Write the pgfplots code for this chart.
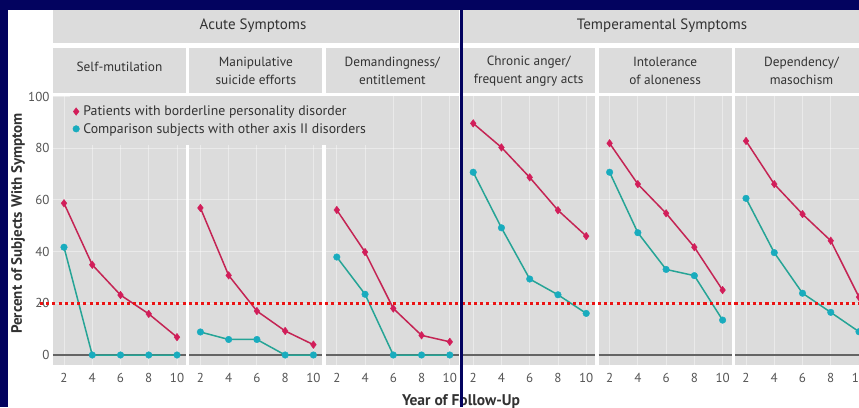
\documentclass[border=0pt]{standalone}
\usepackage{fontspec}
\setmainfont{PT Sans}
\usepackage{pgfplots}
\usepackage{pgfplotstable}
\pgfplotsset{compat=1.18}
\definecolor{navy}{RGB}{3,3,95}
\definecolor{panelgray}{RGB}{220,220,220}
\definecolor{bpd}{RGB}{196,36,84}
\definecolor{bpdm}{RGB}{210,30,90}
\definecolor{cmpl}{RGB}{38,164,150}
\definecolor{cmpm}{RGB}{25,172,190}
\definecolor{tickgray}{RGB}{85,85,85}
\definecolor{textgray}{RGB}{50,50,50}
\definecolor{zerogray}{RGB}{100,100,100}
\definecolor{dotred}{RGB}{235,20,20}

\pgfplotstableread{
year bpd cmp
2 58.7 41.7
4 34.9 0
6 23.2 0
8 15.9 0
10 6.9 0
}\pone
\pgfplotstableread{
year bpd cmp
2 56.9 8.9
4 30.8 6.0
6 17.0 6.0
8 9.3 0
10 4.0 0
}\ptwo
\pgfplotstableread{
year bpd cmp
2 56.1 37.9
4 39.8 23.5
6 18.0 0
8 7.6 0
10 5.1 0
}\pthree
\pgfplotstableread{
year bpd cmp
2 89.6 70.7
4 80.3 49.2
6 68.7 29.4
8 56.0 23.3
10 46.0 16.1
}\pfour
\pgfplotstableread{
year bpd cmp
2 81.9 70.7
4 66.1 47.3
6 54.8 33.1
8 41.7 30.7
10 25.1 13.5
}\pfive
\pgfplotstableread{
year bpd cmp
2 82.8 60.6
4 66.1 39.6
6 54.5 23.9
8 44.2 16.5
10 22.4 9.0
}\psix

\pgfplotsset{
 panel/.style={
  x=14.125pt, y=2.585pt,
  xmin=1.221, xmax=10.64, ymin=-4, ymax=100.3,
  anchor=south west,
  axis background/.style={fill=panelgray},
  axis line style={draw=none},
  major tick length=0pt,
  xtick={2,4,6,8,10},
  ytick={20,40,60,80},
  yticklabels={},
  grid=major,
  major grid style={draw=white, line width=0.9pt, opacity=0.42},
  xticklabel style={font=\fontsize{13}{14}\selectfont, text=tickgray, yshift=-4.5pt},
  yticklabel style={font=\fontsize{13}{14}\selectfont, text=tickgray},
  /pgf/number format/assume math mode=true,
  clip=false,
 },
 zeroline/.style={draw=zerogray, line width=1.6pt, forget plot},
 bpdline/.style={draw=bpd, line width=1.5pt, mark=diamond*, mark size=3.8pt, mark options={fill=bpdm, draw=bpdm, line width=0.4pt}, forget plot},
 cmpline/.style={draw=cmpl, line width=1.5pt, mark=*, mark size=3.3pt, mark options={fill=cmpm, draw=cmpm, line width=0.4pt}, forget plot},
}

\newcommand{\panelplots}[1]{%
  \addplot[zeroline] coordinates {(1.221,0) (10.64,0)};
  \addplot[cmpline] table[x=year,y=cmp] {#1};
  \addplot[bpdline] table[x=year,y=bpd] {#1};
}

\begin{document}
\begin{tikzpicture}[x=1pt,y=1pt]
\path[use as bounding box] (0,0) rectangle (859,407);
\clip (0,0) rectangle (859,407);
\fill[navy] (0,0) rectangle (859,407);
\fill[white] (8,0) rectangle (859,397);
% header bands
\fill[panelgray] (53,364) rectangle (458.8,397);
\fill[panelgray] (462.2,364) rectangle (870,397);
\node[text=textgray, font=\fontsize{15}{16}\selectfont] at (253,381) {Acute Symptoms};
\node[text=textgray, font=\fontsize{15}{16}\selectfont] at (662,381) {Temperamental Symptoms};
% sub headers
\foreach \i in {0,...,5} {
  \fill[panelgray] ({53+136.4*\i},313.5) rectangle ({53+136.4*\i+133},359);
}
\node[text=textgray, font=\fontsize{13.3}{14}\selectfont] at (119.5,340) {Self-mutilation};
\node[text=textgray, font=\fontsize{13.3}{18}\selectfont, align=center] at (255.9,336) {Manipulative\\suicide efforts};
\node[text=textgray, font=\fontsize{13.3}{18}\selectfont, align=center] at (392.3,336) {Demandingness/\\entitlement};
\node[text=textgray, font=\fontsize{13.3}{18}\selectfont, align=center] at (528.7,336) {Chronic anger/\\frequent angry acts};
\node[text=textgray, font=\fontsize{13.3}{18}\selectfont, align=center] at (665.1,336) {Intolerance\\of aloneness};
\node[text=textgray, font=\fontsize{13.3}{18}\selectfont, align=center] at (801.5,336) {Dependency/\\masochism};

% panels drawn right to left
\begin{axis}[panel, at={(735pt,41.66pt)}]
\panelplots{\psix}
\end{axis}
\begin{axis}[panel, at={(598.6pt,41.66pt)}]
\panelplots{\pfive}
\end{axis}
\begin{axis}[panel, at={(462.2pt,41.66pt)}]
\panelplots{\pfour}
\end{axis}
\begin{axis}[panel, at={(325.8pt,41.66pt)}]
\panelplots{\pthree}
\end{axis}
\begin{axis}[panel, at={(189.4pt,41.66pt)}]
\panelplots{\ptwo}
\end{axis}
\begin{axis}[panel, at={(53pt,41.66pt)},
  ytick={0,20,40,60,80,100}, yticklabels={0,20,40,60,80,100},
  legend cell align=left,
  legend style={at={(axis cs:2.4,100.3)}, anchor=north west, fill=panelgray, draw=none,
    font=\fontsize{13.8}{15}\selectfont, text=textgray, row sep=2pt, column sep=2pt,
    inner xsep=3pt, inner ysep=8pt}]
\panelplots{\pone}
\addplot[dotred, line width=3.1pt, dash pattern=on 3.1pt off 3.1pt, forget plot] coordinates {(0.3,20) (60,20)};
\addlegendimage{only marks, mark=diamond*, mark size=3.8pt, color=bpdm}
\addlegendentry{Patients with borderline personality disorder}
\addlegendimage{only marks, mark=*, mark size=3.3pt, color=cmpm}
\addlegendentry{Comparison subjects with other axis II disorders}
\end{axis}

\node[rotate=90, text=textgray, font=\bfseries\fontsize{15}{16}\selectfont] at (18,183.5) {Percent of Subjects With Symptom};
\node[anchor=base, text=textgray, font=\bfseries\fontsize{15.5}{16}\selectfont] at (461,1.5) {Year of Follow-Up};
\fill[navy] (460,0) rectangle (463.3,407);
\end{tikzpicture}
\end{document}
